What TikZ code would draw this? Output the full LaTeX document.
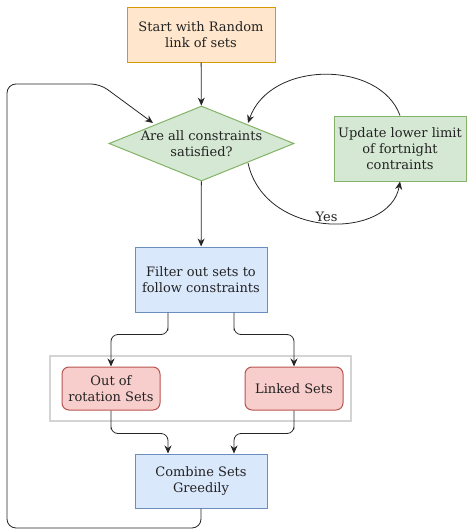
\documentclass[tikz,border=0pt]{standalone}
\usepackage{fontspec}
\setmainfont{DejaVu Serif}
\usetikzlibrary{shapes.geometric,arrows.meta}
\definecolor{orangefill}{HTML}{FFE6CC}
\definecolor{orangeline}{HTML}{D79B00}
\definecolor{greenfill}{HTML}{D5E8D4}
\definecolor{greenline}{HTML}{82B366}
\definecolor{bluefill}{HTML}{DAE8FC}
\definecolor{blueline}{HTML}{6C8EBF}
\definecolor{redfill}{HTML}{F8CECC}
\definecolor{redline}{HTML}{B85450}
\definecolor{groupline}{HTML}{D4D4D4}
\definecolor{textgray}{HTML}{222222}
\tikzset{
	box/.style={draw, line width=1pt, align=center, inner sep=0pt, text=textgray,
		font=\fontsize{13}{16}\selectfont},
	startbox/.style={box, fill=orangefill, draw=orangeline},
	greenbox/.style={box, fill=greenfill, draw=greenline},
	bluebox/.style={box, fill=bluefill, draw=blueline, minimum width=132pt},
	setbox/.style={box, fill=redfill, draw=redline, rounded corners=7pt,
		minimum width=98pt, minimum height=43pt},
	flow/.style={->, line width=0.8pt, draw=black!85, rounded corners=7pt},
	>={Stealth[length=8pt,width=7pt]}
}
\begin{document}
\begin{tikzpicture}[x=1pt,y=-1pt]
	\useasboundingbox (0,0) rectangle (466,530);
	%Draw group frame
	\node[draw=groupline, line width=2pt, minimum width=301pt, minimum height=65pt] (group) at (200.5,388.5) {};
	%Draw nodes
	\node[startbox, minimum width=148pt, minimum height=55pt] (start) at (201,34.5) {Start with Random\\link of sets};
	\node[greenbox, diamond, aspect=2.47, inner sep=-5pt, minimum width=185pt, minimum height=75pt] (check) at (201.5,143.5) {Are all constraints\\satisfied?};
	\node[greenbox, minimum width=132pt, minimum height=65pt] (update) at (400,148.5) {Update lower limit\\of fortnight\\contraints};
	\node[bluebox, minimum height=65pt] (filter) at (201,279.5) {Filter out sets to\\follow constraints};
	\node[setbox] (outrot) at (111,388.5) {Out of\\rotation Sets};
	\node[setbox] (linked) at (294,388.5) {Linked Sets};
	\node[bluebox, minimum height=54pt] (combine) at (201,481) {Combine Sets\\Greedily};
	%Draw loop coordinates
	\coordinate (loop end) at (153,123);
	\coordinate (yes start) at (248,163);
	\coordinate (back end) at (248,123);

	%Draw main flow
	\draw[flow] (start) -- (check);
	\draw[flow] (check) -- (filter);
	\draw[flow] ([xshift=-33pt]filter.south) |- ++(0,22) -| (outrot.north);
	\draw[flow] ([xshift=33pt]filter.south) |- ++(0,22) -| (linked.north);
	\draw[flow] (outrot.south) |- ++(0,23) -| ([xshift=-33pt]combine.north);
	\draw[flow] (linked.south) |- ++(0,23) -| ([xshift=33pt]combine.north);
	%Draw update loop
	\draw[flow] (yes start) .. controls (265,240) and (390,240) .. (update.south)
		node[pos=0.5, above, inner sep=1pt, text=textgray, font=\fontsize{13}{16}\selectfont]{Yes};
	\draw[flow] (update.north) .. controls (380,60) and (270,60) .. (back end);
	%Draw back loop
	\draw[flow, rounded corners=9pt] (combine.south) -- (201,528) -- (7,528) -- (7,84) -- (100,84) -- (loop end);
	%
\end{tikzpicture}
\end{document}
